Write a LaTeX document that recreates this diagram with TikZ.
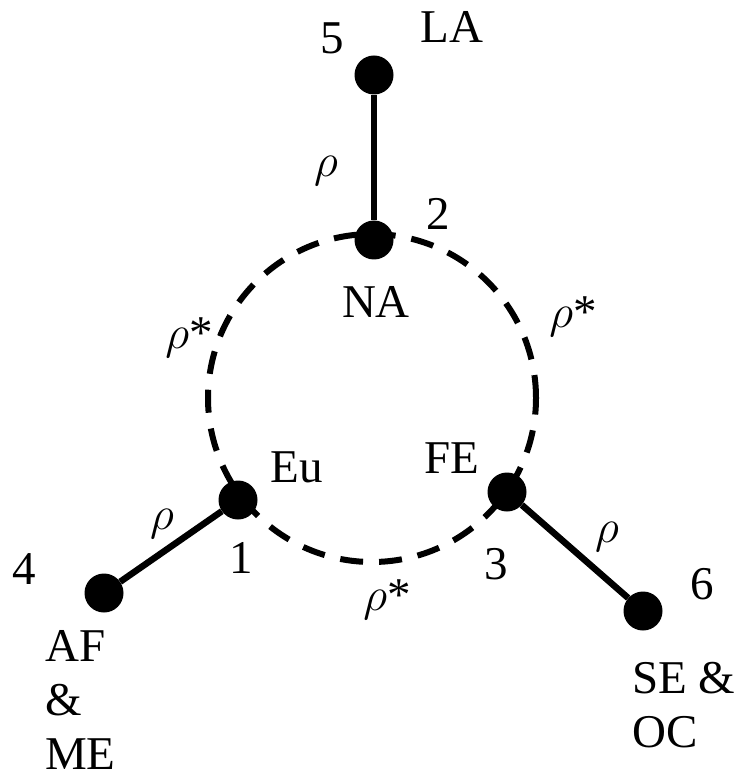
\RequirePackage{fix-cm}
\documentclass[tikz,border=0pt]{standalone}
\usepackage{fontspec}
\setmainfont{Liberation Serif}
\begin{document}
\begin{tikzpicture}[x=1pt,y=-1pt,
  dot/.style={circle,fill=black,minimum size=39pt,inner sep=0pt},
  lbl/.style={font=\fontsize{47}{54}\selectfont,inner sep=0pt},
  solidedge/.style={line width=6.5pt},
  dashedge/.style={line width=6pt,dash pattern=on 23pt off 16pt}]
\useasboundingbox (0,0) rectangle (736,783);
% dashed ring
\coordinate (ctr) at (372,398);
\draw[dashedge] (ctr) circle [radius=164pt];
% nodes
\node[dot] (n5) at (374,75) {};
\node[dot] (n2) at (374,240) {};
\node[dot] (n1) at (238,500) {};
\node[dot] (n4) at (104,593) {};
\node[dot] (n3) at (507,492) {};
\node[dot] (n6) at (643,611) {};
% solid edges
\draw[solidedge] (n5) -- (n2);
\draw[solidedge] (n1) -- (n4);
\draw[solidedge] (n3) -- (n6);
% labels
\node[lbl] (t5) at (332,38) {5};
\node[lbl] (tLA) at (452,27) {LA};
\node[lbl] (t2) at (438,214) {2};
\node[lbl] (tNA) at (376,302) {NA};
\node[lbl] (r52) at (326,171) {$\rho$};
\node[lbl] (rl) at (189,338) {$\rho$*};
\node[lbl] (rr) at (573,317) {$\rho$*};
\node[lbl] (tEu) at (297,467) {Eu};
\node[lbl] (t1) at (241,558) {1};
\node[lbl] (r14) at (162,524) {$\rho$};
\node[lbl] (t4) at (24,569) {4};
\node[lbl,align=left,anchor=north west] (tAF) at (45,630) {AF\\\&\\ME};
\node[lbl] (tFE) at (452,458) {FE};
\node[lbl] (t3) at (496,564) {3};
\node[lbl] (rb) at (387,600) {$\rho$*};
\node[lbl] (r36) at (607,537) {$\rho$};
\node[lbl] (t6) at (702,584) {6};
\node[lbl,align=left,anchor=north west] (tSE) at (632,662) {SE \&\\OC};
\end{tikzpicture}
\end{document}
